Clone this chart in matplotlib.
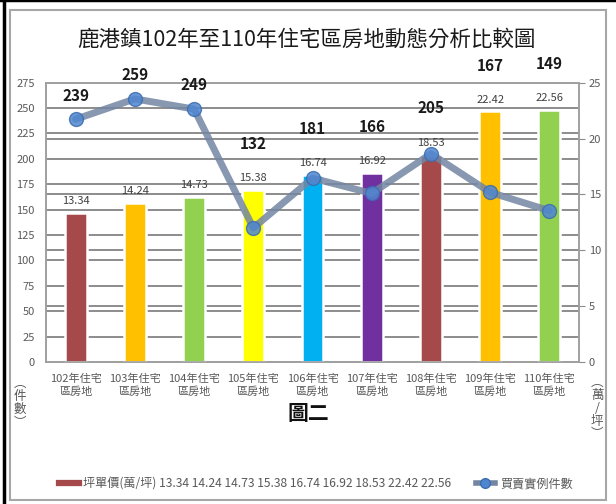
import numpy as np
import matplotlib
matplotlib.use("Agg")
import matplotlib.pyplot as plt
from matplotlib.lines import Line2D
from matplotlib.patches import Rectangle

plt.rcParams['font.family'] = ['Noto Sans CJK TC', 'DejaVu Sans']

# data
years = ["102", "103", "104", "105", "106", "107", "108", "109", "110"]
categories = [f"{y}年住宅\n區房地" for y in years]
price = [13.34, 14.24, 14.73, 15.38, 16.74, 16.92, 18.53, 22.42, 22.56]   # 萬/坪
count = [239, 259, 249, 132, 181, 166, 205, 167, 149]                     # 件
bar_colors = ["#A5494A", "#FFC000", "#92D050", "#FFFF00", "#00B0F0",
              "#7030A0", "#A5494A", "#FFC000", "#92D050"]

left_max, left_step = 275, 25
right_max, right_step = 25, 5
text_gray = "#595959"
grid_gray = "#8C8C8C"

fig = plt.figure(figsize=(6.16, 5.04), dpi=100)
ax = fig.add_axes([0.0747, 0.2817, 0.8653, 0.5543])
ax2 = ax.twinx()

x = np.arange(len(categories))

# bars (price) on the right axis, grid drawn there so it stays behind the bars
ax2.bar(x, price, width=0.37, color=bar_colors, edgecolor="white",
        linewidth=1.8, zorder=3)
ax2.set_ylim(0, right_max)
ax2.set_yticks(np.arange(0, right_max + 0.1, right_step))
ax2.set_yticks(np.arange(0, right_max + 0.1, right_max * left_step / left_max), minor=True)
ax2.grid(axis="y", which="both", color=grid_gray, linewidth=1.4, zorder=0)
ax2.set_axisbelow(True)
ax2.tick_params(axis="y", which="major", labelsize=8, labelcolor=text_gray,
                color=grid_gray, length=4, pad=3)
ax2.tick_params(axis="y", which="minor", length=0)

for xi, p in zip(x, price):
    ax2.annotate(f"{p:.2f}", (xi, p), xytext=(0, 5), textcoords="offset points",
                 ha="center", va="bottom", fontsize=8, color="#404040")

# line (transaction count) on the left axis, drawn on top
ax.set_zorder(ax2.get_zorder() + 1)
ax.patch.set_visible(False)
ax.plot(x, count, color="#7286A3", alpha=0.85, linewidth=5,
        marker="o", markersize=10, markerfacecolor="#4F86D0",
        markeredgecolor="#3C6DB0", markeredgewidth=1, zorder=4,
        solid_capstyle="round")
ax.set_ylim(0, left_max)
ax.set_yticks(np.arange(0, left_max + 1, left_step))
ax.tick_params(axis="y", labelsize=8, labelcolor=text_gray, length=0, pad=8)
ax.set_xlim(-0.5, len(categories) - 0.5)
ax.set_xticks(x)
ax.set_xticklabels(categories, fontsize=8, color=text_gray, linespacing=1.35)
ax.tick_params(axis="x", length=0, pad=8)

scale = left_max / right_max
for xi, c, p in zip(x, count, price):
    bar_top = p * scale
    if c > bar_top + 10:
        base, off = c, 17
    else:
        base, off = max(c, bar_top), 33
    ax.annotate(str(c), (xi, base), xytext=(0, off), textcoords="offset points",
                ha="center", va="center", fontsize=11, fontweight="bold",
                color="#1A1A1A", annotation_clip=False)

for a in (ax, ax2):
    for s in a.spines.values():
        s.set_color("#A0A0A0")
        s.set_linewidth(1.2)

# titles and axis captions
fig.text(0.498, 1 - 40 / 504, "鹿港鎮102年至110年住宅區房地動態分析比較圖",
         ha="center", va="center", fontsize=15.5, color="#1A1A1A")
fig.text(20 / 616, 1 - 403 / 504, "︵\n件\n數\n︶", ha="center", va="center",
         fontsize=9, color=text_gray, linespacing=1.0)
fig.text(597 / 616, 1 - 408 / 504, "︵\n萬\n/\n坪\n︶", ha="center", va="center",
         fontsize=9, color=text_gray, linespacing=1.0)
fig.text(0.5, 1 - 413 / 504, "圖二", ha="center", va="center",
         fontsize=15, fontweight="bold", color="#111111")

# legend
price_label = "坪單價(萬/坪) " + " ".join(f"{p:.2f}" for p in price)
handles = [
    Line2D([], [], color="#A5494A", linewidth=4.5),
    Line2D([], [], color="#7286A3", linewidth=4, marker="o", markersize=7,
           markerfacecolor="#4F86D0", markeredgecolor="#3C6DB0"),
]
fig.legend(handles, [price_label, "買賣實例件數"], loc="center",
           bbox_to_anchor=(0.513, 1 - 484 / 504), ncol=2, frameon=False,
           fontsize=8.7, labelcolor=text_gray, handlelength=1.6,
           columnspacing=2.0, handletextpad=0.4)

# outer frames
fig.add_artist(Rectangle((10 / 616, 1 - 500 / 504), 596 / 616, 490 / 504,
                         transform=fig.transFigure, fill=False,
                         edgecolor="#A6A6A6", linewidth=1.5))
fig.add_artist(Line2D([3.5 / 616, 3.5 / 616], [0, 1], transform=fig.transFigure,
                      color="black", linewidth=2.5))
fig.add_artist(Line2D([0, 1], [1, 1], transform=fig.transFigure,
                      color="black", linewidth=2.5))

fig.savefig("out.png", dpi=100)
